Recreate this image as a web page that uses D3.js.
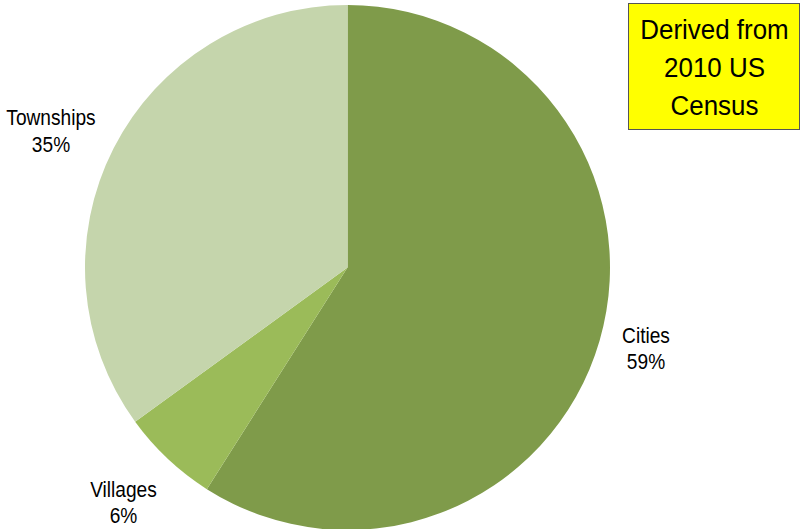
<!DOCTYPE html>
<html>
<head>
<meta charset="utf-8">
<script src="https://cdn.jsdelivr.net/npm/d3@7/dist/d3.min.js"></script>
<style>
  html, body { margin: 0; padding: 0; background: #fff; }
  svg { display: block; }
  text { font-family: "Liberation Sans Narrow", "Arial Narrow", "Liberation Sans", Arial, sans-serif; fill: #000; }
</style>
</head>
<body>
<svg id="chart" width="801" height="529"></svg>
<script>
// Share of population by type of municipality (percent)
const categories = ["Cities", "Villages", "Townships"];
const shares = [59, 6, 35];
const colors = ["#7F9B4A", "#9BBB59", "#C5D5AC"];
const noteLines = ["Derived from", "2010 US", "Census"];

const svg = d3.select("#chart");
const cx = 347.5, cy = 267.5, radius = 262.5;

const data = categories.map((c, i) => ({ name: c, value: shares[i], color: colors[i] }));

const pie = d3.pie().value(d => d.value).sort(null);
const arc = d3.arc().innerRadius(0).outerRadius(radius);

const g = svg.append("g").attr("transform", `translate(${cx},${cy})`);
const arcs = pie(data);

g.selectAll("path.slice")
  .data(arcs)
  .join("path")
  .attr("class", "slice")
  .attr("d", arc)
  .attr("fill", d => d.data.color);

// Category labels outside the pie: [centre x, first baseline, second baseline]
const labelPos = {
  Cities: [646, 343, 369],
  Villages: [123.5, 497, 523],
  Townships: [51, 125, 152]
};
const condense = 0.87;
const labels = svg.append("g").attr("font-size", 22).attr("text-anchor", "middle");
arcs.forEach(a => {
  const [x, y1, y2] = labelPos[a.data.name];
  labels.append("text")
    .attr("transform", `translate(${x},${y1}) scale(${condense},1)`)
    .text(a.data.name);
  labels.append("text")
    .attr("transform", `translate(${x},${y2}) scale(${condense},1)`)
    .text(a.data.value + "%");
});

// Source note box
const box = svg.append("g");
box.append("rect")
  .attr("x", 628.5).attr("y", 3.5)
  .attr("width", 171).attr("height", 126)
  .attr("fill", "#FFFF00")
  .attr("stroke", "#555").attr("stroke-width", 1);
box.selectAll("text")
  .data(noteLines)
  .join("text")
  .attr("transform", (d, i) => `translate(714.5,${39 + i * 38}) scale(0.96,1)`)
  .attr("text-anchor", "middle")
  .attr("font-size", 27)
  .text(d => d);
</script>
</body>
</html>
